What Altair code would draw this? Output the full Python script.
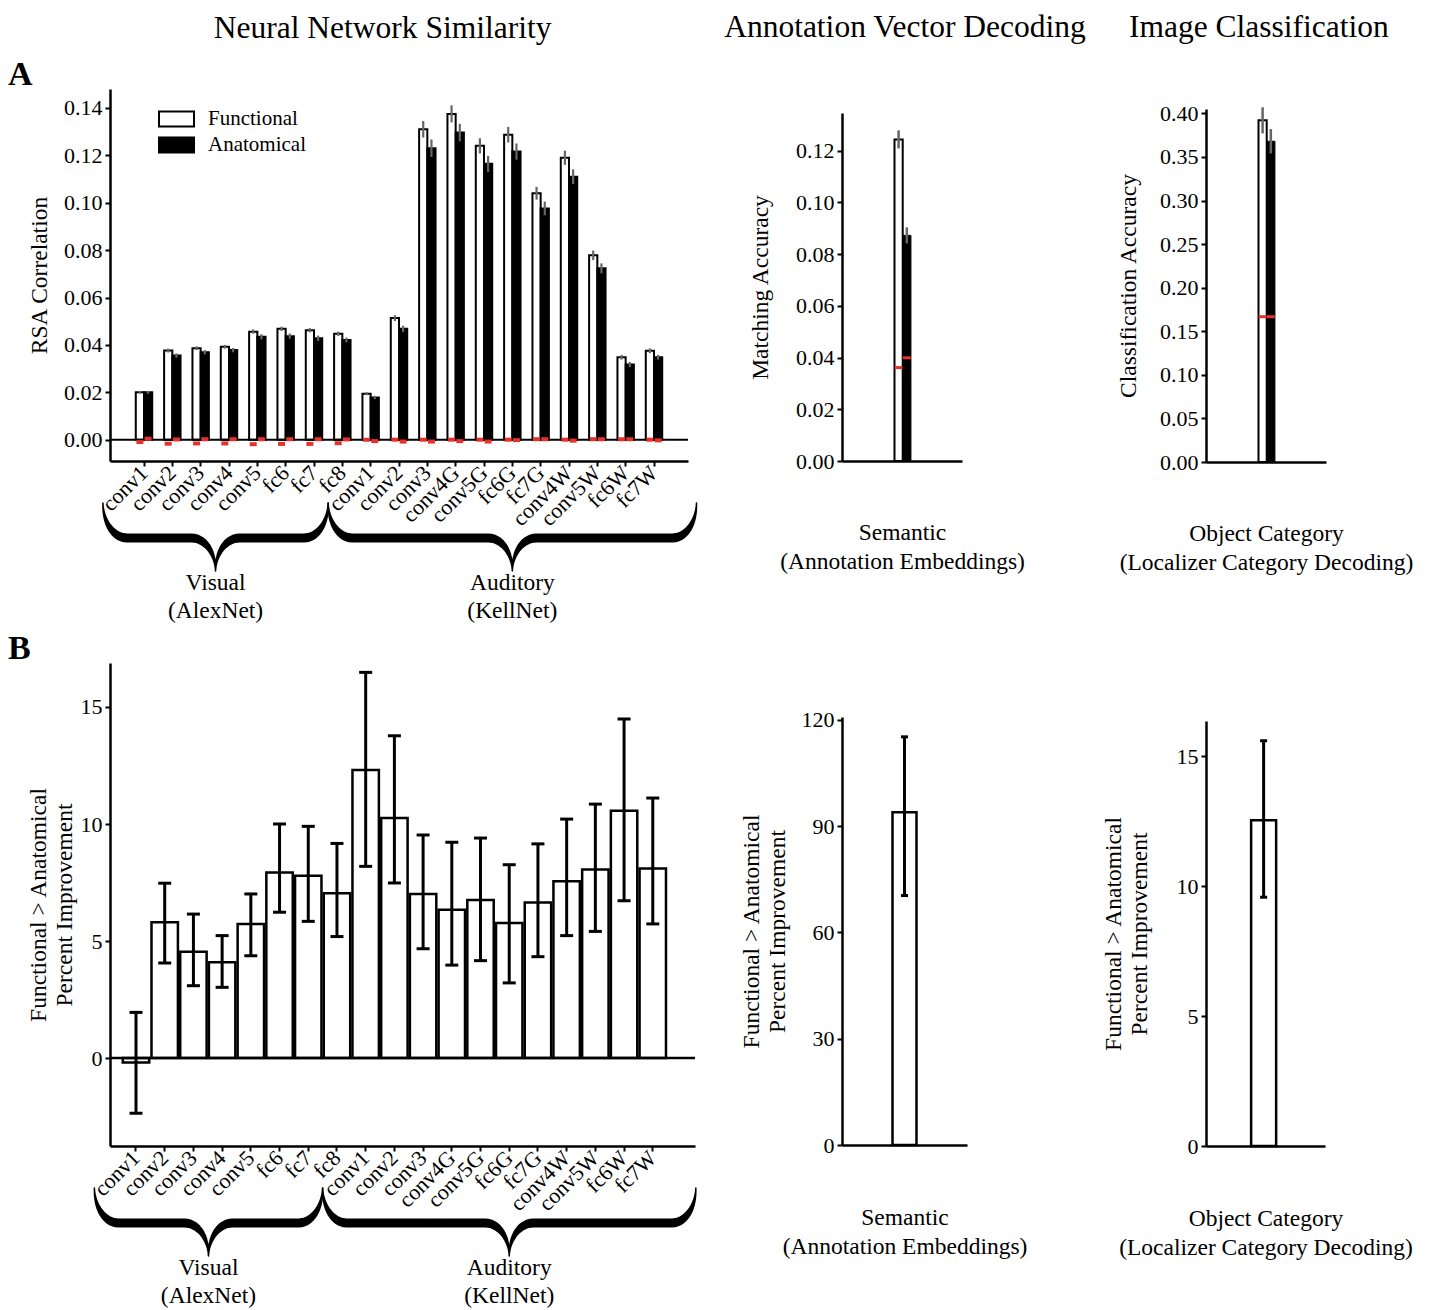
import altair as alt
import numpy as np
import pandas as pd

FONT = "Liberation Serif"

# ---------------- data ----------------
visual_layers = ["conv1", "conv2", "conv3", "conv4", "conv5", "fc6", "fc7", "fc8"]
auditory_layers = ["conv1", "conv2", "conv3", "conv4G", "conv5G", "fc6G", "fc7G",
                   "conv4W", "conv5W", "fc6W", "fc7W"]
rsa_types = ["Functional", "Anatomical"]

rsa_functional = [0.0200, 0.0376, 0.0386, 0.0392, 0.0456, 0.0468, 0.0462, 0.0447,
                  0.0194, 0.0513, 0.1310, 0.1375, 0.1240, 0.1287, 0.1040, 0.1190,
                  0.0778, 0.0348, 0.0375]
rsa_anatomical = [0.0200, 0.0355, 0.0369, 0.0378, 0.0434, 0.0437, 0.0428, 0.0421,
                  0.0178, 0.0468, 0.1230, 0.1296, 0.1164, 0.1216, 0.0976, 0.1110,
                  0.0723, 0.0317, 0.0348]
rsa_functional_err = [0.0006, 0.0008, 0.0008, 0.0008, 0.0009, 0.0009, 0.0009, 0.0009,
                      0.0006, 0.0012, 0.0035, 0.0036, 0.0032, 0.0033, 0.0027, 0.0030,
                      0.0020, 0.0010, 0.0010]
rsa_anatomical_err = [0.0006, 0.0009, 0.0009, 0.0009, 0.0011, 0.0011, 0.0011, 0.0010,
                      0.0007, 0.0013, 0.0037, 0.0037, 0.0034, 0.0034, 0.0029, 0.0031,
                      0.0021, 0.0011, 0.0010]
rsa_functional_null = [-0.0010, -0.0017, -0.0016, -0.0016, -0.0019, -0.0018, -0.0018, -0.0015,
                       0.0000, 0.0000, 0.0000, 0.0000, 0.0000, 0.0000, 0.0002, 0.0000,
                       0.0002, 0.0002, 0.0000]
rsa_anatomical_null = [0.0004, 0.0001, 0.0002, 0.0002, 0.0002, 0.0002, 0.0002, 0.0001,
                       -0.0006, -0.0008, -0.0008, -0.0006, -0.0008, -0.0002, 0.0002, -0.0004,
                       0.0002, 0.0002, -0.0003]

improvement = [-0.19, 5.80, 4.54, 4.09, 5.73, 7.93, 7.79, 7.04,
               12.31, 10.26, 7.01, 6.34, 6.75, 5.77, 6.65, 7.55, 8.06, 10.57, 8.10]
improvement_lo = [-2.36, 4.06, 3.09, 3.02, 4.37, 6.23, 5.84, 5.19,
                  8.19, 7.48, 4.67, 3.97, 4.16, 3.21, 4.33, 5.23, 5.41, 6.72, 5.73]
improvement_hi = [1.95, 7.47, 6.15, 5.23, 7.01, 10.00, 9.90, 9.17,
                  16.48, 13.77, 9.53, 9.22, 9.40, 8.26, 9.15, 10.21, 10.85, 14.49, 11.11]

semantic_acc = [0.1243, 0.0872]
semantic_err = [0.0035, 0.0031]
semantic_null = [0.0361, 0.0399]
semantic_improvement = [93.9]
semantic_improvement_lo = [70.4]
semantic_improvement_hi = [115.2]

category_acc = [0.392, 0.368]
category_err = [0.015, 0.014]
category_null = [0.1667, 0.1667]
category_improvement = [12.53]
category_improvement_lo = [9.57]
category_improvement_hi = [15.59]

group_names = ["Visual\n(AlexNet)", "Auditory\n(KellNet)"]

# ---------------- tables ----------------
keys = [f"V|{n}" for n in visual_layers] + [f"A|{n}" for n in auditory_layers]
rows = []
for i, k in enumerate(keys):
    rows.append(dict(key=k, type="Functional", value=rsa_functional[i],
                     lo=rsa_functional[i] - rsa_functional_err[i],
                     hi=rsa_functional[i] + rsa_functional_err[i],
                     null=rsa_functional_null[i]))
    rows.append(dict(key=k, type="Anatomical", value=rsa_anatomical[i],
                     lo=rsa_anatomical[i] - rsa_anatomical_err[i],
                     hi=rsa_anatomical[i] + rsa_anatomical_err[i],
                     null=rsa_anatomical_null[i]))
df_rsa = pd.DataFrame(rows)
df_imp = pd.DataFrame(dict(key=keys, value=improvement, lo=improvement_lo, hi=improvement_hi))


def pair_table(cat, acc, err, null):
    return pd.DataFrame(dict(cat=[cat, cat], type=rsa_types, value=acc,
                             lo=[a - e for a, e in zip(acc, err)],
                             hi=[a + e for a, e in zip(acc, err)], null=null))


df_sem = pair_table("Semantic", semantic_acc, semantic_err, semantic_null)
df_cat = pair_table("Object Category", category_acc, category_err, category_null)
df_sem_imp = pd.DataFrame(dict(cat=["Semantic"], value=semantic_improvement,
                               lo=semantic_improvement_lo, hi=semantic_improvement_hi))
df_cat_imp = pd.DataFrame(dict(cat=["Object Category"], value=category_improvement,
                               lo=category_improvement_lo, hi=category_improvement_hi))

# ---------------- helpers ----------------
RED = "#e8302c"
GREY = "#666666"
N = len(keys)
n_vis = len(visual_layers)


def band_domain(n, pi, po, align=0.5):
    half = (1 - pi) / 2
    return [-(2 * po * align + half), (n - 1) + half + 2 * po * (1 - align)]


def brace_tables(step_px, ydom, height, top=42, flat=77, tip=110, text_top=110):
    """Curly-brace outline (decorative) under each network's group of layers."""
    spans = [(-1.45, n_vis - 1.5), (n_vis - 1.5, N + 0.5)]

    def to_y(px):
        return ydom[0] - px / height * (ydom[1] - ydom[0])

    rx = 24.0 / step_px
    brows, trows = [], []
    t = np.linspace(0, np.pi / 2, 16)
    thin, thick = 1.5, 9.0
    for g, (a, b) in enumerate(spans):
        m = (a + b) / 2
        pts = []
        pts += [(a + rx - rx * np.cos(v), top + (flat - top) * np.sin(v), v) for v in t]
        pts += [(m - rx + rx * np.cos(v), tip - (tip - flat) * np.sin(v), v) for v in t[::-1]]
        pts += [(m + rx - rx * np.cos(v), tip - (tip - flat) * np.sin(v), v) for v in t]
        pts += [(b - rx + rx * np.cos(v), top + (flat - top) * np.sin(v), v) for v in t[::-1]]
        for j, (x, y, v) in enumerate(pts):
            brows.append(dict(bx=x, by=to_y(y), grp=g, k=j,
                              w=thin + (thick - thin) * np.sin(v) ** 1.5))
        trows.append(dict(bx=m, by=to_y(text_top), label=group_names[g]))
    return pd.DataFrame(brows), pd.DataFrame(trows)


def yenc(field, dom, title, values, fmt, pad, lh=26):
    return alt.Y(f"{field}:Q",
                 scale=alt.Scale(domain=dom, nice=False, zero=False),
                 axis=alt.Axis(title=title, values=values, format=fmt,
                               titlePadding=pad, titleLineHeight=lh))


def overlay(step_px, xdom, ydom, height, ytitle, yvals, fmt, pad):
    bdf, tdf = brace_tables(step_px, ydom, height)
    xq = alt.X("bx:Q", scale=alt.Scale(domain=xdom, nice=False, zero=False), axis=None)
    brace = alt.Chart(bdf).mark_trail(color="black").encode(
        x=xq, y=yenc("by", ydom, ytitle, yvals, fmt, pad),
        size=alt.Size("w:Q", scale=None, legend=None),
        detail="grp:N", order="k:Q")
    text = alt.Chart(tdf).mark_text(font=FONT, fontSize=23.5, lineHeight=28,
                                    baseline="top", align="center", color="black",
                                    lineBreak="\n").encode(
        x=xq, y=yenc("by", ydom, ytitle, yvals, fmt, pad), text="label:N")
    return alt.layer(brace, text)


def spacer(h):
    return alt.Chart(pd.DataFrame(dict(s=[0]))).mark_point(opacity=0, size=1).encode(
        x=alt.value(0), y=alt.value(0)).properties(width=1, height=h)


LABEL_EXPR = "split(datum.label, '|')[1]"

# ---------------- panel A1 ----------------
A1_W, A1_H = 578, 372
A1_DOM = [-0.009, 0.148]
A1_PI, A1_PO = 0.42, 0.91
A1_TITLE = "RSA Correlation"
A1_VALS = [0, 0.02, 0.04, 0.06, 0.08, 0.10, 0.12, 0.14]
xA1 = alt.X("key:N", sort=keys,
            scale=alt.Scale(paddingInner=A1_PI, paddingOuter=A1_PO),
            axis=alt.Axis(title=None, labelAngle=-45, labelAlign="right",
                          labelBaseline="middle", labelExpr=LABEL_EXPR,
                          labelOverlap=False, labelPadding=3))
xoA1 = alt.XOffset("type:N", sort=rsa_types,
                   scale=alt.Scale(domain=rsa_types, paddingInner=0, paddingOuter=0))


def yA1(f):
    return yenc(f, A1_DOM, A1_TITLE, A1_VALS, ".2f", 12)


bars_a1 = alt.Chart(df_rsa).mark_bar(stroke="black", strokeWidth=2).encode(
    x=xA1, xOffset=xoA1, y=yA1("value"), y2=alt.datum(0),
    fill=alt.Fill("type:N", sort=rsa_types,
                  scale=alt.Scale(domain=rsa_types, range=["white", "black"]),
                  legend=alt.Legend(title=None, orient="none", legendX=55.5, legendY=19,
                                    symbolType="M-1.75,-0.75L1.75,-0.75L1.75,0.75L-1.75,0.75Z",
                                    symbolSize=400, symbolStrokeColor="black",
                                    symbolStrokeWidth=2, labelFont=FONT,
                                    labelFontSize=21, labelOffset=20.5, rowPadding=2,
                                    padding=0, labelColor="black")))
err_a1 = alt.Chart(df_rsa).mark_rule(color=GREY, strokeWidth=2.2).encode(
    x=xA1, xOffset=xoA1, y=yA1("lo"), y2="hi:Q")
null_a1 = alt.Chart(df_rsa).mark_tick(color=RED, thickness=4, size=7, opacity=1).encode(
    x=xA1, xOffset=xoA1, y=yA1("null"))
zero_a1 = alt.Chart(pd.DataFrame(dict(z=[0.0]))).mark_rule(
    color="black", strokeWidth=2).encode(y=yA1("z"))
band_a1 = alt.layer(bars_a1, zero_a1, err_a1, null_a1)
step_a1 = A1_W / (N - A1_PI + 2 * A1_PO)
over_a1 = overlay(step_a1, band_domain(N, A1_PI, A1_PO), A1_DOM, A1_H,
                  A1_TITLE, A1_VALS, ".2f", 12)
A1 = alt.layer(band_a1, over_a1).resolve_scale(x="independent").properties(
    width=A1_W, height=A1_H,
    title=alt.TitleParams("A", anchor="start", frame="group", dx=-102, offset=-3,
                          fontSize=34, fontWeight="bold", font=FONT, color="black"))

# ---------------- panel B1 ----------------
B1_W, B1_H = 585, 483
B1_DOM = [-3.76, 16.88]
B1_PI, B1_PO, B1_AL = 0.08, 0.728, 0.306
B1_TITLE = ["Functional > Anatomical", "Percent Improvement"]
B1_VALS = [0, 5, 10, 15]
xB1 = alt.X("key:N", sort=keys,
            scale=alt.Scale(paddingInner=B1_PI, paddingOuter=B1_PO, align=B1_AL),
            axis=alt.Axis(title=None, labelAngle=-45, labelAlign="right",
                          labelBaseline="middle", labelExpr=LABEL_EXPR,
                          labelOverlap=False, labelPadding=3))


def yB1(f):
    return yenc(f, B1_DOM, B1_TITLE, B1_VALS, "d", 4)


bars_b1 = alt.Chart(df_imp).mark_bar(fill="white", stroke="black", strokeWidth=2.5).encode(
    x=xB1, y=yB1("value"), y2=alt.datum(0))
zero_b1 = alt.Chart(pd.DataFrame(dict(z=[0.0]))).mark_rule(
    color="black", strokeWidth=2.5).encode(y=yB1("z"))
err_b1 = alt.Chart(df_imp).mark_rule(color="black", strokeWidth=3).encode(
    x=xB1, y=yB1("lo"), y2="hi:Q")
caplo_b1 = alt.Chart(df_imp).mark_tick(color="black", thickness=3, size=13, opacity=1).encode(
    x=xB1, y=yB1("lo"))
caphi_b1 = alt.Chart(df_imp).mark_tick(color="black", thickness=3, size=13, opacity=1).encode(
    x=xB1, y=yB1("hi"))
band_b1 = alt.layer(bars_b1, zero_b1, err_b1, caplo_b1, caphi_b1)
step_b1 = B1_W / (N - B1_PI + 2 * B1_PO)
over_b1 = overlay(step_b1, band_domain(N, B1_PI, B1_PO, B1_AL), B1_DOM, B1_H,
                  B1_TITLE, B1_VALS, "d", 4)
B1 = alt.layer(band_b1, over_b1).resolve_scale(x="independent").properties(
    width=B1_W, height=B1_H,
    title=alt.TitleParams("B", anchor="start", frame="group", dx=-102, offset=-3,
                          fontSize=34, fontWeight="bold", font=FONT, color="black"))


# ---------------- small panels ----------------
def pair_panel(df, width, height, dom, vals, ytitle, xtitle, pi, ypad):
    xs = alt.X("cat:N", scale=alt.Scale(paddingInner=pi, paddingOuter=1),
               axis=alt.Axis(labels=False, ticks=False, title=xtitle,
                             titlePadding=59, titleLineHeight=29))
    xo = alt.XOffset("type:N", sort=rsa_types,
                     scale=alt.Scale(domain=rsa_types, paddingInner=0, paddingOuter=0))

    def yy(f):
        return yenc(f, dom, ytitle, vals, ".2f", ypad)

    func = alt.Chart(df).transform_filter("datum.type == 'Functional'").mark_bar(
        fill="white", stroke="black", strokeWidth=2).encode(
        x=xs, xOffset=xo, y=yy("value"), y2=alt.datum(0))
    anat = alt.Chart(df).transform_filter("datum.type == 'Anatomical'").mark_bar(
        fill="black", stroke="black", strokeWidth=1).encode(
        x=xs, xOffset=xo, y=yy("value"), y2=alt.datum(0))
    err = alt.Chart(df).mark_rule(color=GREY, strokeWidth=2.5).encode(
        x=xs, xOffset=xo, y=yy("lo"), y2="hi:Q")
    nul = alt.Chart(df).mark_tick(color=RED, thickness=3, size=8, opacity=1).encode(
        x=xs, xOffset=xo, y=yy("null"))
    return alt.layer(func, anat, err, nul).properties(width=width, height=height)


def single_panel(df, width, height, dom, vals, xtitle, pi, align, ypad):
    xs = alt.X("cat:N", scale=alt.Scale(paddingInner=pi, paddingOuter=1, align=align),
               axis=alt.Axis(labels=False, ticks=False, title=xtitle,
                             titlePadding=60, titleLineHeight=29))

    def yy(f):
        return yenc(f, dom, B1_TITLE, vals, "d", ypad)

    bar = alt.Chart(df).mark_bar(fill="white", stroke="black", strokeWidth=2.5).encode(
        x=xs, y=yy("value"), y2=alt.datum(0))
    err = alt.Chart(df).mark_rule(color="black", strokeWidth=3).encode(
        x=xs, y=yy("lo"), y2="hi:Q")
    c1 = alt.Chart(df).mark_tick(color="black", thickness=3, size=7, opacity=1).encode(
        x=xs, y=yy("lo"))
    c2 = alt.Chart(df).mark_tick(color="black", thickness=3, size=7, opacity=1).encode(
        x=xs, y=yy("hi"))
    return alt.layer(bar, err, c1, c2).properties(width=width, height=height)


A2 = pair_panel(df_sem, 120, 348, [0, 0.1345], [0, 0.02, 0.04, 0.06, 0.08, 0.10, 0.12],
                "Matching Accuracy", ["Semantic", "(Annotation Embeddings)"], 0.714, 23)
A3 = pair_panel(df_cat, 120, 353, [0, 0.405], [0, 0.05, 0.10, 0.15, 0.20, 0.25, 0.30, 0.35, 0.40],
                "Classification Accuracy",
                ["Object Category", "(Localizer Category Decoding)"], 0.714, 19)
B2 = single_panel(df_sem_imp, 125, 428, [0, 120.8], [0, 30, 60, 90, 120],
                  ["Semantic", "(Annotation Embeddings)"], 0.525, 0.5, 12)
B3 = single_panel(df_cat_imp, 119, 425, [0, 16.35], [0, 5, 10, 15],
                  ["Object Category", "(Localizer Category Decoding)"], 0.468, 0.48, 25)


def col_title(text, dx, offset):
    return alt.TitleParams(text, anchor="middle", dx=dx, offset=offset, fontSize=31.5,
                           fontWeight="normal", font=FONT, color="black")


col1 = alt.vconcat(A1, B1, spacing=202, bounds="flush",
                   title=col_title("Neural Network Similarity", 30, 14))
col2 = alt.vconcat(spacer(24), A2, spacer(256), B2, spacing=0, bounds="flush",
                   title=col_title("Annotation Vector Decoding", 22, 45))
col3 = alt.vconcat(spacer(20), A3, spacer(259), B3, spacing=0, bounds="flush",
                   title=col_title("Image Classification", 2, 45))

chart = alt.hconcat(col1, alt.hconcat(col2, col3, spacing=14), spacing=25).properties(
    padding={"top": 4, "left": 0, "right": 0, "bottom": 0}
).configure(font=FONT).configure_view(stroke=None).configure_axis(
    domainColor="black", domainWidth=2.5, tickColor="black", tickWidth=2, tickSize=5,
    labelColor="black", labelFont=FONT, labelFontSize=22, titleFont=FONT,
    titleFontSize=23.5, titleFontWeight="normal", titleColor="black", grid=False,
    labelPadding=3
).configure_legend(labelFont=FONT)

chart.save("out.html", embed_options={"renderer": "svg", "actions": False})
